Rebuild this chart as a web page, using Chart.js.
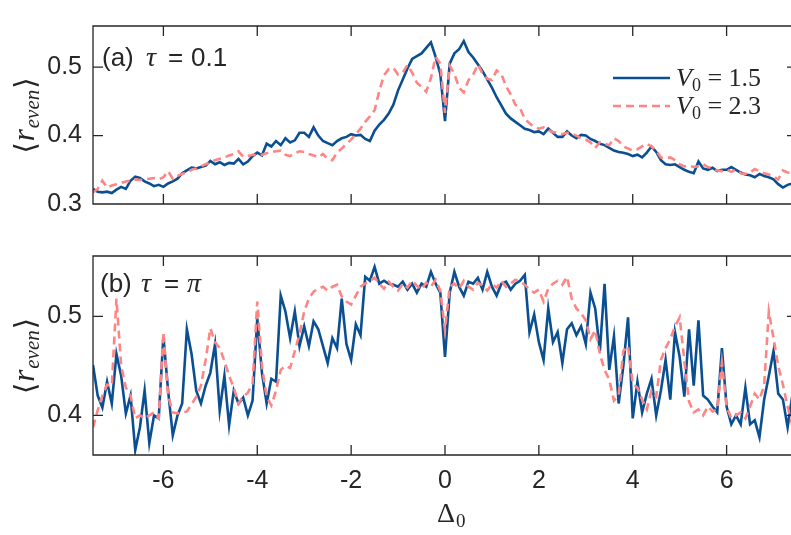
<!DOCTYPE html>
<html><head><meta charset="utf-8">
<script src="https://cdn.jsdelivr.net/npm/chart.js@4.4.1/dist/chart.umd.min.js"></script>
<style>
html,body{margin:0;padding:0;background:#fff;overflow:hidden;width:791px;height:535px}
#wa{position:absolute;left:0;top:0;width:800px;height:230px}
#wb{position:absolute;left:0;top:230px;width:800px;height:305px}
</style></head><body>
<div id="wa"><canvas id="ca"></canvas></div>
<div id="wb"><canvas id="cb"></canvas></div>
<script>
// ---- data (Delta_0 grid and <r_even> values) ----
const delta0 = [
 -7.5,-7.4,-7.3,-7.2,-7.1,-7.0,-6.9,-6.8,-6.7,-6.6,
 -6.5,-6.4,-6.3,-6.2,-6.1,-6.0,-5.9,-5.8,-5.7,-5.6,
 -5.5,-5.4,-5.3,-5.2,-5.1,-5.0,-4.9,-4.8,-4.7,-4.6,
 -4.5,-4.4,-4.3,-4.2,-4.1,-4.0,-3.9,-3.8,-3.7,-3.6,
 -3.5,-3.4,-3.3,-3.2,-3.1,-3.0,-2.9,-2.8,-2.7,-2.6,
 -2.5,-2.4,-2.3,-2.2,-2.1,-2.0,-1.9,-1.8,-1.7,-1.6,
 -1.5,-1.4,-1.3,-1.2,-1.1,-1.0,-0.9,-0.8,-0.7,-0.6,
 -0.5,-0.4,-0.3,-0.2,-0.1,0.0,0.1,0.2,0.3,0.4,
 0.5,0.6,0.7,0.8,0.9,1.0,1.1,1.2,1.3,1.4,
 1.5,1.6,1.7,1.8,1.9,2.0,2.1,2.2,2.3,2.4,
 2.5,2.6,2.7,2.8,2.9,3.0,3.1,3.2,3.3,3.4,
 3.5,3.6,3.7,3.8,3.9,4.0,4.1,4.2,4.3,4.4,
 4.5,4.6,4.7,4.8,4.9,5.0,5.1,5.2,5.3,5.4,
 5.5,5.6,5.7,5.8,5.9,6.0,6.1,6.2,6.3,6.4,
 6.5,6.6,6.7,6.8,6.9,7.0,7.1,7.2,7.3,7.4];

// panel (a): tau = 0.1
const tauA_V15 = [
 0.322,0.318,0.317,0.318,0.316,0.321,0.325,0.322,0.334,0.340,
 0.338,0.333,0.330,0.326,0.328,0.325,0.330,0.333,0.337,0.345,
 0.349,0.353,0.352,0.354,0.356,0.363,0.358,0.361,0.357,0.360,
 0.359,0.366,0.358,0.362,0.370,0.375,0.371,0.388,0.384,0.392,
 0.386,0.396,0.390,0.393,0.404,0.404,0.398,0.412,0.400,0.392,
 0.389,0.386,0.392,0.396,0.398,0.402,0.400,0.401,0.395,0.392,
 0.407,0.416,0.423,0.432,0.445,0.466,0.482,0.498,0.512,0.516,
 0.520,0.528,0.536,0.515,0.490,0.421,0.505,0.520,0.526,0.538,
 0.522,0.514,0.504,0.494,0.482,0.470,0.456,0.444,0.432,0.425,
 0.420,0.415,0.410,0.408,0.405,0.406,0.402,0.410,0.404,0.398,
 0.398,0.406,0.400,0.396,0.401,0.400,0.395,0.392,0.388,0.386,
 0.382,0.378,0.376,0.375,0.373,0.370,0.372,0.368,0.375,0.384,
 0.376,0.364,0.358,0.357,0.358,0.354,0.350,0.347,0.345,0.362,
 0.352,0.350,0.353,0.348,0.350,0.350,0.354,0.350,0.346,0.343,
 0.342,0.339,0.344,0.341,0.339,0.336,0.329,0.324,0.328,0.330];
const tauA_V23 = [
 0.317,0.322,0.334,0.324,0.327,0.329,0.331,0.333,0.334,0.336,
 0.335,0.336,0.337,0.338,0.336,0.339,0.348,0.337,0.341,0.344,
 0.346,0.350,0.352,0.355,0.358,0.361,0.364,0.366,0.368,0.371,
 0.373,0.377,0.369,0.370,0.372,0.371,0.372,0.374,0.376,0.377,
 0.378,0.372,0.370,0.374,0.377,0.376,0.373,0.371,0.368,0.373,
 0.366,0.364,0.375,0.381,0.388,0.394,0.402,0.410,0.420,0.428,
 0.437,0.465,0.488,0.497,0.499,0.489,0.492,0.503,0.492,0.477,
 0.471,0.464,0.484,0.515,0.505,0.433,0.502,0.490,0.470,0.463,
 0.481,0.489,0.504,0.490,0.483,0.481,0.495,0.490,0.472,0.460,
 0.445,0.440,0.424,0.418,0.412,0.410,0.412,0.408,0.405,0.404,
 0.402,0.404,0.403,0.400,0.396,0.394,0.390,0.382,0.390,0.388,
 0.386,0.396,0.392,0.384,0.381,0.378,0.380,0.384,0.388,0.384,
 0.378,0.368,0.367,0.368,0.364,0.358,0.355,0.356,0.354,0.355,
 0.358,0.354,0.352,0.349,0.348,0.350,0.347,0.350,0.345,0.344,
 0.346,0.351,0.348,0.345,0.343,0.340,0.336,0.349,0.346,0.345];

// panel (b): tau = pi
const tauB_V15 = [
 0.451,0.420,0.408,0.434,0.412,0.462,0.440,0.402,0.420,0.365,
 0.388,0.425,0.372,0.400,0.397,0.480,0.425,0.380,0.400,0.412,
 0.487,0.462,0.425,0.412,0.430,0.443,0.472,0.405,0.440,0.390,
 0.425,0.412,0.418,0.400,0.415,0.498,0.443,0.412,0.437,0.434,
 0.521,0.505,0.478,0.505,0.470,0.490,0.470,0.495,0.487,0.470,
 0.453,0.478,0.468,0.518,0.472,0.456,0.492,0.481,0.540,0.536,
 0.550,0.533,0.536,0.533,0.532,0.530,0.535,0.527,0.533,0.524,
 0.533,0.530,0.545,0.533,0.524,0.459,0.524,0.545,0.530,0.521,
 0.535,0.533,0.539,0.527,0.545,0.530,0.521,0.533,0.535,0.527,
 0.533,0.536,0.542,0.484,0.502,0.474,0.456,0.508,0.474,0.484,
 0.453,0.487,0.493,0.481,0.490,0.472,0.524,0.508,0.465,0.533,
 0.446,0.480,0.412,0.450,0.499,0.397,0.434,0.403,0.422,0.437,
 0.400,0.425,0.456,0.416,0.484,0.459,0.419,0.487,0.430,0.496,
 0.420,0.416,0.409,0.403,0.468,0.409,0.391,0.400,0.391,0.428,
 0.391,0.395,0.378,0.416,0.440,0.465,0.422,0.416,0.388,0.420];
const tauB_V23 = [
 0.388,0.405,0.420,0.431,0.430,0.518,0.450,0.428,0.420,0.397,
 0.400,0.397,0.400,0.403,0.397,0.484,0.420,0.403,0.402,0.403,
 0.404,0.411,0.419,0.430,0.456,0.488,0.474,0.468,0.455,0.440,
 0.428,0.412,0.419,0.423,0.432,0.515,0.450,0.419,0.410,0.425,
 0.446,0.450,0.448,0.465,0.482,0.505,0.518,0.525,0.528,0.530,
 0.526,0.530,0.532,0.520,0.515,0.512,0.521,0.530,0.533,0.536,
 0.539,0.533,0.528,0.535,0.530,0.526,0.533,0.529,0.536,0.531,
 0.527,0.534,0.530,0.537,0.526,0.486,0.530,0.533,0.528,0.536,
 0.530,0.527,0.534,0.531,0.526,0.533,0.529,0.536,0.530,0.533,
 0.537,0.535,0.532,0.527,0.524,0.527,0.515,0.528,0.533,0.536,
 0.532,0.540,0.518,0.508,0.503,0.496,0.477,0.486,0.462,0.446,
 0.436,0.415,0.420,0.465,0.470,0.432,0.428,0.416,0.406,0.425,
 0.419,0.456,0.468,0.477,0.490,0.499,0.455,0.414,0.403,0.406,
 0.400,0.409,0.404,0.406,0.453,0.409,0.397,0.400,0.403,0.397,
 0.409,0.422,0.416,0.430,0.505,0.478,0.450,0.431,0.409,0.390];

const v0Values = ['1.5', '2.3'];
const xTicks = [-6, -4, -2, 0, 2, 4, 6];
const yTicksA = [0.3, 0.4, 0.5];
const yTicksB = [0.4, 0.5];

// ---- styles ----
const AX = '#262626';
const SANS = '"Liberation Sans", Arial, Helvetica, sans-serif';
const SERIF = '"Liberation Serif", "Times New Roman", serif';
const colors = ['#0a4f92', '#ff8585'];
const dashes = [[], [8, 5]];

function ds(vals, k) {
  return {
    label: 'V0 = ' + v0Values[k],
    data: delta0.map((x, i) => ({x: x, y: vals[i]})),
    borderColor: colors[k], backgroundColor: colors[k],
    borderWidth: 2.6, borderDash: dashes[k],
    pointRadius: 0, fill: false, tension: 0,
    order: k === 0 ? 1 : 0
  };
}

function piece(ctx, text, font, x, y) {
  ctx.font = font; ctx.fillText(text, x, y);
  return x + ctx.measureText(text).width;
}

const decor = {
  id: 'decor',
  afterDraw(chart, args, o) {
    const ctx = chart.ctx;
    const {left, right, top, bottom} = chart.chartArea;
    const xs = chart.scales.x, ys = chart.scales.y;
    ctx.save();
    // box and inward ticks
    ctx.strokeStyle = AX; ctx.lineWidth = 1.3;
    ctx.beginPath();
    ctx.rect(left, top, right - left, bottom - top);
    const tl = 10;
    xTicks.forEach(v => {
      const px = xs.getPixelForValue(v);
      ctx.moveTo(px, bottom); ctx.lineTo(px, bottom - tl);
      ctx.moveTo(px, top); ctx.lineTo(px, top + tl);
    });
    o.yTicks.forEach(v => {
      const py = ys.getPixelForValue(v);
      ctx.moveTo(left, py); ctx.lineTo(left + tl, py);
      ctx.moveTo(right, py); ctx.lineTo(right - tl, py);
    });
    ctx.stroke();

    ctx.fillStyle = AX;
    ctx.textBaseline = 'alphabetic';
    ctx.textAlign = 'left';
    // panel label
    const b = top + o.tagBase, off = o.tagOff;
    piece(ctx, o.tag, '26px ' + SANS, left + off[0], b);
    piece(ctx, '\u03C4', 'italic 28px ' + SERIF, left + off[1], b);
    piece(ctx, '=', '26px ' + SANS, left + off[2], b);
    if (o.tauItalic) piece(ctx, o.tau, 'italic 28px ' + SERIF, left + off[3], b);
    else piece(ctx, o.tau, '26px ' + SANS, left + off[3], b);

    // y-axis title <r_even>
    ctx.save();
    const cy = (top + bottom) / 2;
    ctx.translate(34, cy);
    ctx.rotate(-Math.PI / 2);
    const parts = [
      ['\u27E8', '29px "DejaVu Sans", ' + SERIF, 1],
      ['r', 'italic 31px ' + SERIF, 0],
      ['even', 'italic 21px ' + SERIF, 5],
      ['\u27E9', '29px "DejaVu Sans", ' + SERIF, 1]
    ];
    let w = 0;
    parts.forEach(p => { ctx.font = p[1]; w += ctx.measureText(p[0]).width + 1; });
    let px = -w / 2;
    parts.forEach(p => { px = piece(ctx, p[0], p[1], px, p[2]) + 1; });
    ctx.restore();

    // legend
    if (o.legend) {
      chart.data.datasets.forEach((d, k) => {
        const ly = top + 52 + k * 28;
        ctx.save();
        ctx.strokeStyle = d.borderColor; ctx.lineWidth = d.borderWidth;
        ctx.setLineDash(d.borderDash);
        ctx.beginPath(); ctx.moveTo(613, ly); ctx.lineTo(670, ly); ctx.stroke();
        ctx.restore();
        const by = ly + 8;
        let tx = piece(ctx, 'V', 'italic 26px ' + SERIF, 676, by);
        tx = piece(ctx, '0', '18px ' + SERIF, tx, by + 5);
        piece(ctx, ' = ' + v0Values[k], '26px ' + SERIF, tx, by);
      });
    }
    // x-axis title Delta_0
    if (o.xTitle) {
      let tx = piece(ctx, '\u0394', '28px ' + SERIF, 437, bottom + 67);
      piece(ctx, '0', '19px ' + SERIF, tx + 1, bottom + 72);
    }
    ctx.restore();
  }
};

function yScale(min, max, ticks) {
  return {
    type: 'linear', min: min, max: max,
    afterBuildTicks: s => { s.ticks = ticks.map(v => ({value: v})); },
    afterFit: s => { s.width = 93; },
    grid: {display: false, drawTicks: false},
    border: {display: false},
    ticks: {color: AX, padding: 11, font: {family: SANS, size: 25}, callback: v => v.toFixed(1)}
  };
}

new Chart(document.getElementById('ca'), {
  type: 'line',
  data: {datasets: [ds(tauA_V15, 0), ds(tauA_V23, 1)]},
  options: {
    responsive: true, maintainAspectRatio: false, animation: false, events: [],
    layout: {padding: {left: 0, right: 3, top: 1, bottom: 13}},
    plugins: {legend: {display: false}, tooltip: {enabled: false},
      decor: {yTicks: yTicksA, tag: '(a)', tau: '0.1', tauItalic: false, tagBase: 40,
              tagOff: [9, 53, 75, 98], legend: true, xTitle: false}},
    scales: {
      x: {type: 'linear', min: -7.5, max: 7.5, display: false},
      y: yScale(0.3, 0.56, yTicksA)
    }
  },
  plugins: [decor]
});

new Chart(document.getElementById('cb'), {
  type: 'line',
  data: {datasets: [ds(tauB_V15, 0), ds(tauB_V23, 1)]},
  options: {
    responsive: true, maintainAspectRatio: false, animation: false, events: [],
    layout: {padding: {left: 0, right: 3, top: 8, bottom: 0}},
    plugins: {legend: {display: false}, tooltip: {enabled: false},
      decor: {yTicks: yTicksB, tag: '(b)', tau: '\u03C0', tauItalic: true, tagBase: 36,
              tagOff: [7, 48, 71, 94], legend: false, xTitle: true}},
    scales: {
      x: {
        type: 'linear', min: -7.5, max: 7.5,
        afterBuildTicks: s => { s.ticks = xTicks.map(v => ({value: v})); },
        afterFit: s => { s.height = 80; },
        grid: {display: false, drawTicks: false},
        border: {display: false},
        ticks: {color: AX, padding: 11, maxRotation: 0, autoSkip: false, font: {family: SANS, size: 25}, callback: v => String(v)}
      },
      y: yScale(0.36, 0.561, yTicksB)
    }
  },
  plugins: [decor]
});
</script>
</body></html>
